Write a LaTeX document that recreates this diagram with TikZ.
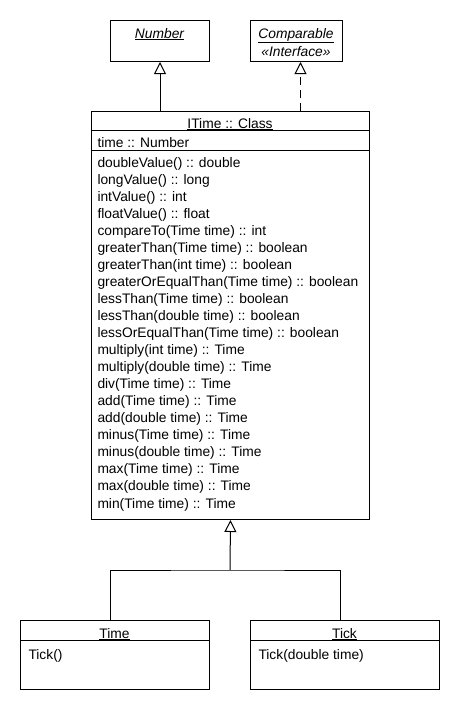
\documentclass[tikz,border=0pt]{standalone}
\usepackage{fontspec}
\setmainfont{Liberation Sans}
\usetikzlibrary{arrows.meta}
\begin{document}
\begin{tikzpicture}[x=1pt,y=-1pt,line width=1pt,
  box/.style={draw,inner sep=0pt,anchor=north west},
  lbl/.style={inner sep=0pt,font=\fontsize{13.8}{16}\selectfont},
  gen/.style={-{Triangle[open,length=12pt,width=12pt]}},
  realize/.style={gen,dash pattern=on 8pt off 5pt}]
\useasboundingbox (0,0) rectangle (460,710);
\fill[white] (0,0) rectangle (460,710);
% boxes
\node[box,minimum width=99pt,minimum height=41pt] (number) at (110,20) {};
\node[box,minimum width=92pt,minimum height=41pt] (comp) at (250,20) {};
\node[box,minimum width=278pt,minimum height=408pt] (itime) at (91,111) {};
\node[box,minimum width=189pt,minimum height=69pt] (time) at (20,620) {};
\node[box,minimum width=189pt,minimum height=69pt] (tick) at (250,620) {};
% compartments
\draw (itime.north west) ++(0,19) coordinate (h1) -- (h1 -| itime.east);
\draw (itime.north west) ++(0,39) coordinate (h2) -- (h2 -| itime.east);
\draw (time.north west) ++(0,20) coordinate (t1) -- (t1 -| time.east);
\draw (tick.north west) ++(0,20) coordinate (k1) -- (k1 -| tick.east);
% texts
\node[lbl,anchor=base] (numbert) at (159.5,38) {\itshape\underline{Number}};
\node[lbl,anchor=base] (compt) at (296,38) {\itshape\underline{Comparable}};
\node[lbl,anchor=base] (compst) at (296,56) {\itshape «Interface»};
\node[lbl,anchor=base] (itimet) at (230,128) {\underline{ITime :: Class}};
\node[lbl,anchor=base west] (attr) at (97,147) {time :: Number};
\foreach [count=\i] \t in {doubleValue() :: double,longValue() :: long,intValue() :: int,floatValue() :: float,compareTo(Time time) :: int,greaterThan(Time time) :: boolean,greaterThan(int time) :: boolean,greaterOrEqualThan(Time time) :: boolean,lessThan(Time time) :: boolean,lessThan(double time) :: boolean,lessOrEqualThan(Time time) :: boolean,multiply(int time) :: Time,multiply(double time) :: Time,div(Time time) :: Time,add(Time time) :: Time,add(double time) :: Time,minus(Time time) :: Time,minus(double time) :: Time,max(Time time) :: Time,max(double time) :: Time,min(Time time) :: Time}
  \node[lbl,anchor=base west] (m\i) at (97,{167+17.05*(\i-1)}) {\t};
\node[lbl,anchor=base] (timet) at (114.5,638) {\underline{Time}};
\node[lbl,anchor=base west] (timem) at (28,659) {Tick()};
\node[lbl,anchor=base] (tickt) at (344.5,638) {\underline{Tick}};
\node[lbl,anchor=base west] (tickm) at (258,659) {Tick(double time)};
% connectors
\draw[gen] (number.south |- itime.north) -- (number.south);
\draw[realize] ([xshift=4pt]comp.south |- itime.north) -- ([xshift=4pt]comp.south);
\coordinate (j) at (230,570);
\draw ([xshift=-4.5pt]time.north) |- (j) -| ([xshift=-4.5pt]tick.north);
\draw[gen] (j) -- (itime.south);
\end{tikzpicture}
\end{document}
